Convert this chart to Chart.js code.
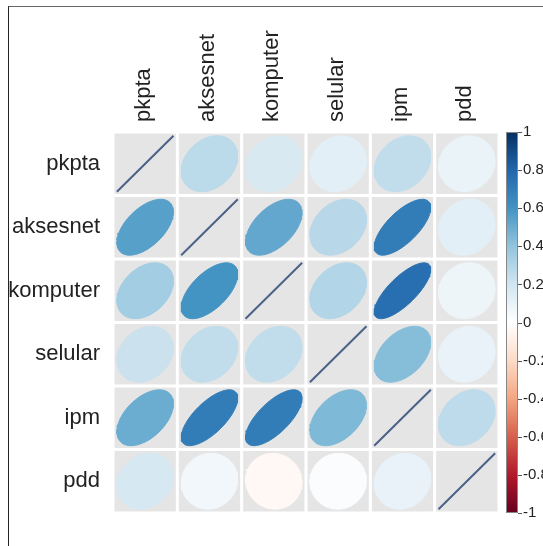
<!DOCTYPE html>
<html>
<head>
<meta charset="utf-8">
<script src="https://cdn.jsdelivr.net/npm/chart.js@4/dist/chart.umd.min.js"></script>
<style>
  body { margin: 0; background: #fff; }
  #wrap { position: relative; width: 543px; height: 546px; }
  #frame { position: absolute; left: 8px; top: 6px; right: 0; bottom: 0;
           border-top: 1px solid #666; border-left: 1px solid #222; }
  canvas { position: absolute; left: 0; top: 0; }
</style>
</head>
<body>
<div id="wrap">
  <canvas id="corrChart" width="543" height="546"></canvas>
  <div id="frame"></div>
</div>
<script>
// variable names (rows and columns)
const vars = ['pkpta', 'aksesnet', 'komputer', 'selular', 'ipm', 'pdd'];

// values per row (columns in the order of vars)
const rowPkpta    = [1.00, 0.27, 0.17, 0.12, 0.25, 0.09];
const rowAksesnet = [0.55, 1.00, 0.52, 0.28, 0.70, 0.12];
const rowKomputer = [0.35, 0.60, 1.00, 0.30, 0.76, 0.08];
const rowSelular  = [0.22, 0.25, 0.25, 1.00, 0.43, 0.10];
const rowIpm      = [0.50, 0.70, 0.70, 0.45, 1.00, 0.26];
const rowPdd      = [0.18, 0.06, -0.04, 0.02, 0.10, 1.00];
const rows = [rowPkpta, rowAksesnet, rowKomputer, rowSelular, rowIpm, rowPdd];

// colour legend tick labels
const legendTicks = [1, 0.8, 0.6, 0.4, 0.2, 0, -0.2, -0.4, -0.6, -0.8, -1];

// RdBu palette, -1 .. 1
const palette = ['#67001F', '#B2182B', '#D6604D', '#F4A582', '#FDDBC7', '#FFFFFF',
                 '#D1E5F0', '#92C5DE', '#4393C3', '#2166AC', '#053061'];

function hexToRgb(h) {
    return [parseInt(h.slice(1, 3), 16), parseInt(h.slice(3, 5), 16), parseInt(h.slice(5, 7), 16)];
}

function colorFor(v) {
    const pos = (v + 1) / 0.2;
    const i = Math.min(Math.floor(pos), palette.length - 2);
    const f = pos - i;
    const a = hexToRgb(palette[i]), b = hexToRgb(palette[i + 1]);
    const c = a.map((x, k) => Math.round(x + (b[k] - x) * f));
    return `rgb(${c[0]}, ${c[1]}, ${c[2]})`;
}

const R = 0.44;   // half size of a mark, in cell units
const N = 72;

// ellipse outline for one cell, same shape rule as corrplot
function ellipsePoints(cx, cy, rho) {
    const d = Math.acos(rho);
    const pts = [];
    for (let k = 0; k <= N; k++) {
        const t = 2 * Math.PI * k / N;
        pts.push({ x: cx + R * Math.cos(t + d / 2), y: cy - R * Math.cos(t - d / 2) });
    }
    return pts;
}

const datasets = [];
rows.forEach((row, r) => {
    row.forEach((v, c) => {
        const cx = c + 1, cy = r + 1;
        if (r === c) {
            datasets.push({
                data: [{ x: cx - R, y: cy + R }, { x: cx + R, y: cy - R }],
                borderColor: '#4a6188',
                borderWidth: 2,
                pointRadius: 0,
                fill: false
            });
        } else {
            const col = colorFor(v);
            datasets.push({
                data: ellipsePoints(cx, cy, v),
                borderColor: col,
                backgroundColor: col,
                borderWidth: 1,
                pointRadius: 0,
                tension: 0,
                fill: 'shape'
            });
        }
    });
});

// gray cells behind the marks and the colour legend
const cellsAndLegend = {
    id: 'cellsAndLegend',
    beforeDatasetsDraw(chart) {
        const { ctx, scales: { x, y } } = chart;
        ctx.save();
        ctx.fillStyle = '#e5e5e5';
        for (let r = 1; r <= vars.length; r++) {
            for (let c = 1; c <= vars.length; c++) {
                const x0 = x.getPixelForValue(c - 0.5) + 1.5;
                const x1 = x.getPixelForValue(c + 0.5) - 1.5;
                const y0 = y.getPixelForValue(r - 0.5) + 1.5;
                const y1 = y.getPixelForValue(r + 0.5) - 1.5;
                ctx.fillRect(x0, y0, x1 - x0, y1 - y0);
            }
        }
        ctx.restore();
    },
    afterDraw(chart) {
        const { ctx } = chart;
        const cb = chart.scales.cb;
        const left = 506, right = 518;
        const top = cb.getPixelForValue(1), bottom = cb.getPixelForValue(-1);
        ctx.save();
        const g = ctx.createLinearGradient(0, bottom, 0, top);
        palette.forEach((col, i) => g.addColorStop(i / (palette.length - 1), col));
        ctx.fillStyle = g;
        ctx.fillRect(left, top, right - left, bottom - top);
        ctx.strokeStyle = '#888';
        ctx.lineWidth = 1;
        ctx.strokeRect(left + 0.5, top + 0.5, right - left - 1, bottom - top - 1);
        ctx.strokeStyle = '#555';
        legendTicks.forEach(v => {
            const py = Math.round(cb.getPixelForValue(v)) + 0.5;
            ctx.beginPath();
            ctx.moveTo(right, py);
            ctx.lineTo(right + 4, py);
            ctx.stroke();
        });
        ctx.restore();
    }
};

const labelFont = { family: "'Liberation Sans', Arial, sans-serif", size: 22 };
const catTicks = () => vars.map((_, i) => ({ value: i + 1 }));

new Chart(document.getElementById('corrChart'), {
    type: 'line',
    data: { datasets },
    options: {
        responsive: false,
        animation: false,
        layout: { padding: { left: 0, top: 0, right: 0, bottom: 28 } },
        plugins: { legend: { display: false }, tooltip: { enabled: false } },
        scales: {
            x: {
                type: 'linear',
                position: 'top',
                min: 0.5, max: 6.5,
                afterBuildTicks: s => { s.ticks = catTicks(); },
                afterFit: s => { s.height = 132; },
                ticks: {
                    callback: v => vars[v - 1],
                    font: labelFont, color: '#222',
                    minRotation: 90, maxRotation: 90,
                    padding: 10, labelOffset: 25, autoSkip: false
                },
                grid: { display: false, drawTicks: false },
                border: { display: false }
            },
            y: {
                type: 'linear',
                position: 'left',
                reverse: true,
                min: 0.5, max: 6.5,
                afterBuildTicks: s => { s.ticks = catTicks(); },
                afterFit: s => { s.width = 113; },
                ticks: {
                    callback: v => vars[v - 1],
                    font: labelFont, color: '#222',
                    padding: 13, autoSkip: false
                },
                grid: { display: false, drawTicks: false },
                border: { display: false }
            },
            cb: {
                type: 'linear',
                position: 'right',
                min: -1, max: 1,
                afterBuildTicks: s => { s.ticks = legendTicks.map(v => ({ value: v })); },
                afterFit: s => { s.width = 44; },
                ticks: {
                    callback: v => String(v),
                    font: { family: "'Liberation Sans', Arial, sans-serif", size: 15 },
                    color: '#222',
                    padding: 24, autoSkip: false
                },
                grid: { display: false, drawTicks: false },
                border: { display: false }
            }
        }
    },
    plugins: [cellsAndLegend]
});
</script>
</body>
</html>
